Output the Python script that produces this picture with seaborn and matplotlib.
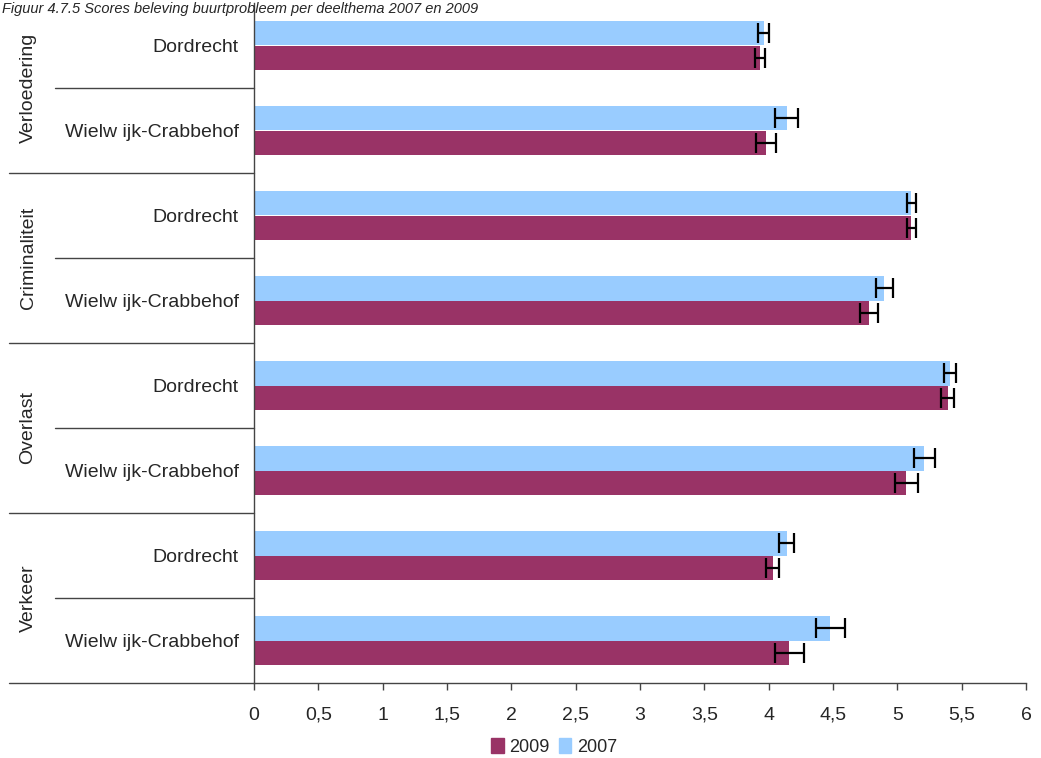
import matplotlib
matplotlib.use('Agg')
import matplotlib.pyplot as plt
from matplotlib.patches import Patch
import seaborn as sns
import pandas as pd

# Gegevens
themes = ['Verloedering', 'Criminaliteit', 'Overlast', 'Verkeer']
areas = ['Dordrecht', 'Wielw ijk-Crabbehof']
years = ['2007', '2009']

score_2007 = [3.96, 4.14, 5.11, 4.90, 5.41, 5.21, 4.14, 4.48]
score_2009 = [3.93, 3.98, 5.11, 4.78, 5.39, 5.07, 4.03, 4.16]
err_2007 = [0.04, 0.09, 0.035, 0.063, 0.047, 0.084, 0.057, 0.114]
err_2009 = [0.04, 0.08, 0.035, 0.067, 0.048, 0.092, 0.054, 0.114]

colors = {'2009': '#993366', '2007': '#99CCFF'}

cats = [f'{t}|{a}' for t in themes for a in areas]
df = pd.DataFrame({
    'cat': cats * 2,
    'jaar': ['2007'] * len(cats) + ['2009'] * len(cats),
    'score': score_2007 + score_2009,
})
errs = {'2007': err_2007, '2009': err_2009}

sns.set_style('white')
plt.rcParams['font.family'] = ['Liberation Sans', 'DejaVu Sans']

fig = plt.figure(figsize=(10.41, 7.58), dpi=100)
W, H = 1041, 758
ax = fig.add_axes([254 / W, (H - 683) / H, (1026 - 254) / W, (683 - 3) / H])

sns.barplot(data=df, y='cat', x='score', hue='jaar', hue_order=years,
            order=cats, palette=colors, orient='h', width=0.565,
            errorbar=None, saturation=1, linewidth=0, ax=ax)

# Foutbalken
for year, cont in zip(years, ax.containers):
    xs = [b.get_width() for b in cont]
    ys = [b.get_y() + b.get_height() / 2 for b in cont]
    ax.errorbar(xs, ys, xerr=errs[year], fmt='none', ecolor='black',
                elinewidth=1.6, capsize=7.5, capthick=1.6)

ax.set_xlim(0, 6)
ax.set_ylim(len(cats) - 0.5, -0.5)
ax.set_xticks([i * 0.5 for i in range(13)])
ax.set_xticklabels([f'{i * 0.5:g}'.replace('.', ',') for i in range(13)])
ax.tick_params(axis='x', direction='out', length=5, width=1, color='#444444',
               labelsize=14, pad=12, bottom=True)
ax.set_yticks(range(len(cats)))
ax.set_yticklabels([c.split('|')[1] for c in cats], fontsize=14)
ax.tick_params(axis='y', length=0, pad=11)
ax.set_xlabel('')
ax.set_ylabel('')

for s in ['top', 'right']:
    ax.spines[s].set_visible(False)
for s in ['left', 'bottom']:
    ax.spines[s].set_color('#444444')
    ax.spines[s].set_linewidth(1)

# Scheidingslijnen categorie-as
tr = ax.get_yaxis_transform()
x_inner = (55 - 254) / (1026 - 254)
x_outer = (9 - 254) / (1026 - 254)
for i in range(len(themes)):
    ax.plot([x_inner, 0], [2 * i + 0.5] * 2, transform=tr, color='#444444',
            lw=1, clip_on=False)
    y_end = 2 * i + 1.5
    ax.plot([x_outer, 0], [y_end] * 2, transform=tr, color='#444444',
            lw=1, clip_on=False)
    ax.text((28 - 254) / (1026 - 254), 2 * i + 0.5, themes[i], transform=tr,
            rotation=90, ha='center', va='center', fontsize=14)

ax.legend_.remove()
handles = [Patch(color=colors['2009'], label='2009'),
           Patch(color=colors['2007'], label='2007')]
fig.legend(handles=handles, loc='center', bbox_to_anchor=(554 / W, 1 - 747 / H),
           ncol=2, frameon=False, fontsize=13, handlelength=0.7,
           handleheight=0.9, handletextpad=0.3, columnspacing=0.5)

fig.text(2 / W, 1 - 13 / H,
         'Figuur 4.7.5 Scores beleving buurtprobleem per deelthema 2007 en 2009',
         ha='left', va='baseline', fontsize=10.5, style='italic')

fig.savefig('out.png', dpi=100)
